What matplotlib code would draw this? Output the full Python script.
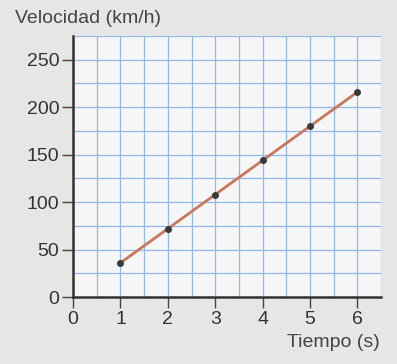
import matplotlib
matplotlib.use('Agg')
import matplotlib.pyplot as plt
from matplotlib.ticker import MultipleLocator

# Datos: tiempo (s) y velocidad (km/h)
tiempo = [1, 2, 3, 4, 5, 6]
velocidad = [36, 72, 108, 144, 180, 216]
x_ticks = [0, 1, 2, 3, 4, 5, 6]
y_ticks = [0, 50, 100, 150, 200, 250]

fig = plt.figure(figsize=(3.97, 3.64), dpi=100, facecolor='#e6e6e6')
ax = fig.add_axes([0.184, 0.184, 0.776, 0.717])
ax.set_facecolor('#f6f6f6')

ax.plot(tiempo, velocidad, color='#c8775a', linewidth=2.0, zorder=3)
ax.plot(tiempo, velocidad, 'o', color='#3a3a3a', markersize=4, zorder=4)

ax.set_xlim(0, 6.5)
ax.set_ylim(0, 275)
ax.set_xticks(x_ticks)
ax.set_yticks(y_ticks)
ax.xaxis.set_minor_locator(MultipleLocator(0.5))
ax.yaxis.set_minor_locator(MultipleLocator(25))
ax.grid(which='both', color='#8fb8ec', linewidth=0.9)
ax.set_axisbelow(True)

for s in ['top', 'right']:
    ax.spines[s].set_visible(False)
for s in ['left', 'bottom']:
    ax.spines[s].set_color('#333333')
    ax.spines[s].set_linewidth(1.8)

ax.tick_params(which='major', length=8, width=1, color='#444444', pad=2,
               labelsize=14, labelcolor='#333333')
ax.tick_params(which='minor', length=0)
for lab in ax.get_xticklabels() + ax.get_yticklabels():
    lab.set_family('Liberation Sans')

fig.text(0.038, 0.95, 'Velocidad (km/h)', fontsize=14, color='#444444',
         family='Liberation Sans', va='center', ha='left')
fig.text(0.957, 0.058, 'Tiempo (s)', fontsize=14, color='#444444',
         family='Liberation Sans', va='center', ha='right')

fig.savefig('out.png', dpi=100, facecolor=fig.get_facecolor())
